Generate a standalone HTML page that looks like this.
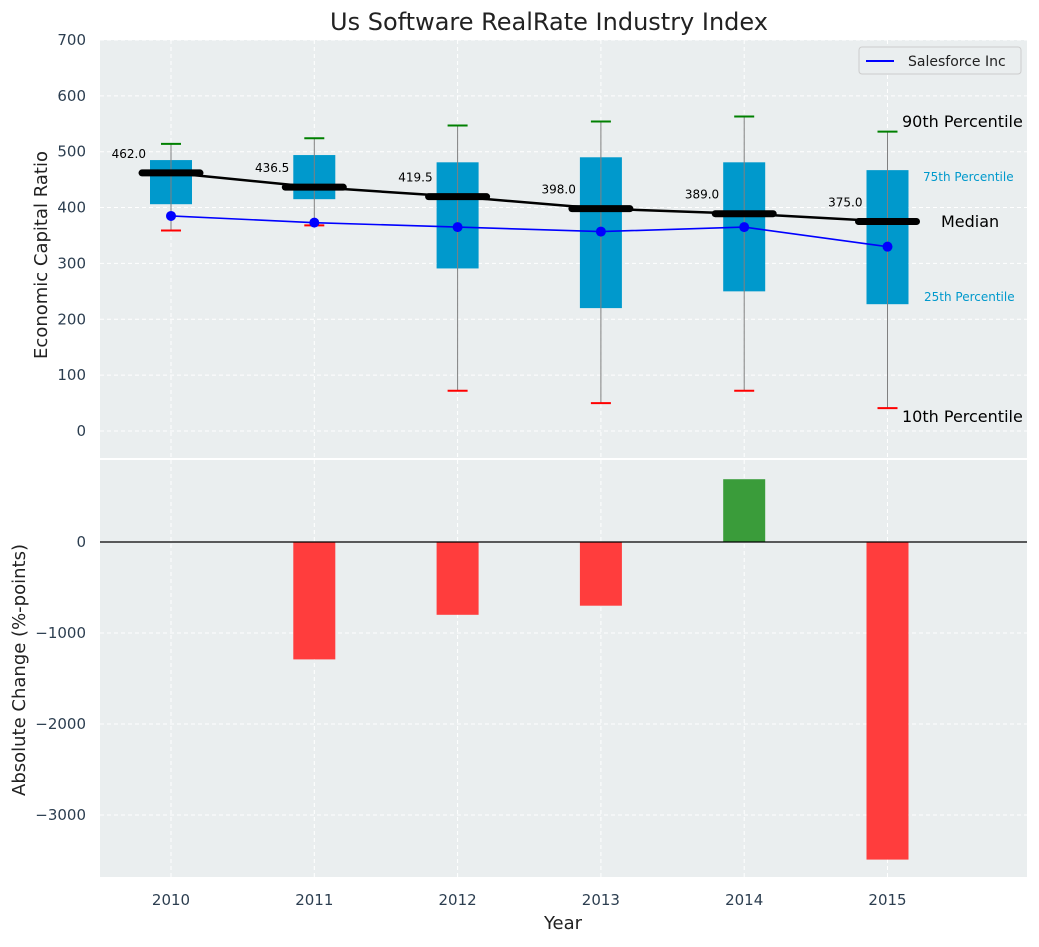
<!DOCTYPE html>
<html><head><meta charset="utf-8"><style>
body{margin:0;background:#fff;font-family:"Liberation Sans","DejaVu Sans",sans-serif;}
svg text{font-family:"DejaVu Sans","Liberation Sans",sans-serif;}
</style></head><body>
<svg id="c" width="1039" height="942" xmlns="http://www.w3.org/2000/svg"></svg>
<script>
const years=[2010,2011,2012,2013,2014,2015];
const p90=[514,524,547,554,563,536];
const p75=[485,494,481,490,481,467];
const medians=[462.0,436.5,419.5,398.0,389.0,375.0];
const p25=[406,415,291,220,250,227];
const p10=[359,368,72,50,72,41];
const salesforce=[385,373,365,357,365,330];
const changes=[0,-1290,-800,-700,690,-3490];
const topTicks=[0,100,200,300,400,500,600,700];
const botTicks=[0,-1000,-2000,-3000];

const svg=document.getElementById('c');
const NS='http://www.w3.org/2000/svg';
function el(tag,attrs,parent){const e=document.createElementNS(NS,tag);for(const k in attrs)e.setAttribute(k,attrs[k]);(parent||svg).appendChild(e);return e;}
const L=100,R=1027;
const x=i=>171+(i)*143.3;
const yT=v=>431-v*0.5586;
const yB=v=>542-v*0.091;

let bg=el('rect',{x:L,y:40,width:R-L,height:418,fill:'#eaeeef'});

let bg2=el('rect',{x:L,y:460,width:R-L,height:417,fill:'#eaeeef'});


years.forEach((y,i)=>{
 el('line',{x1:x(i),x2:x(i),y1:40,y2:458,stroke:'#fff','stroke-dasharray':'4,3','stroke-width':1});
 el('line',{x1:x(i),x2:x(i),y1:460,y2:877,stroke:'#fff','stroke-dasharray':'4,3','stroke-width':1});
 let t=el('text',{x:x(i),y:905,'font-size':15,fill:'#2c3e50','text-anchor':'middle'});t.textContent=y;
 
});
topTicks.forEach(v=>{
 el('line',{x1:L,x2:R,y1:yT(v),y2:yT(v),stroke:'#fff','stroke-dasharray':'4,3'});
 let t=el('text',{x:86,y:yT(v)+5,'font-size':15,fill:'#2c3e50','text-anchor':'end'});t.textContent=v;
 
});
botTicks.forEach(v=>{
 el('line',{x1:L,x2:R,y1:yB(v),y2:yB(v),stroke:'#fff','stroke-dasharray':'4,3'});
 let t=el('text',{x:86,y:yB(v)+5,'font-size':15,fill:'#2c3e50','text-anchor':'end'});t.textContent=(v<0?'\u2212'+(-v):v);
 
});

years.forEach((y,i)=>{
 let b=el('rect',{x:x(i)-21,y:yT(p75[i]),width:42,height:yT(p25[i])-yT(p75[i]),fill:'#0099cc'});
 
 el('line',{x1:x(i),x2:x(i),y1:yT(p90[i]),y2:yT(p10[i]),stroke:'#808080','stroke-width':1});
 el('line',{x1:x(i)-10,x2:x(i)+10,y1:yT(p90[i]),y2:yT(p90[i]),stroke:'green','stroke-width':2});
 el('line',{x1:x(i)-10,x2:x(i)+10,y1:yT(p10[i]),y2:yT(p10[i]),stroke:'red','stroke-width':2});
});
el('polyline',{points:medians.map((m,i)=>x(i)+','+yT(m)).join(' '),fill:'none',stroke:'#000','stroke-width':2.5});
years.forEach((y,i)=>{
 let m=el('line',{x1:x(i)-29,x2:x(i)+29,y1:yT(medians[i]),y2:yT(medians[i]),stroke:'#000','stroke-width':7,'stroke-linecap':'round'});
 
 let t=el('text',{x:x(i)-25,y:yT(medians[i])-15,'font-size':12,fill:'#000','text-anchor':'end'});t.textContent=medians[i].toFixed(1);
 
});
el('polyline',{points:salesforce.map((v,i)=>x(i)+','+yT(v)).join(' '),fill:'none',stroke:'blue','stroke-width':1.6});
salesforce.forEach((v,i)=>{let c=el('circle',{cx:x(i),cy:yT(v),r:5,fill:'blue'});
 });

const ann=[['90th Percentile',902,127,16,'#000'],['75th Percentile',923,181,12,'#0099cc'],['Median',941,227,16,'#000'],['25th Percentile',924,301,12,'#0099cc'],['10th Percentile',902,422,16,'#000']];
ann.forEach(a=>{let t=el('text',{x:a[1],y:a[2],'font-size':a[3],fill:a[4]});t.textContent=a[0];
 });

let lg=el('rect',{x:859,y:47,width:162,height:27,fill:'#eaeeef',stroke:'#ccc',rx:3});

el('line',{x1:866,x2:894,y1:61,y2:61,stroke:'blue','stroke-width':2});
let lt=el('text',{x:908,y:66,'font-size':14,fill:'#222'});lt.textContent='Salesforce Inc';


changes.forEach((v,i)=>{
 if(v===0)return;
 const y0=yB(Math.max(v,0)),h=Math.abs(yB(v)-yB(0));
 let b=el('rect',{x:x(i)-21,y:y0,width:42,height:h,fill:v>0?'#3a9c3a':'#ff3d3d'});
 
});
el('line',{x1:L,x2:R,y1:yB(0),y2:yB(0),stroke:'#000','stroke-width':1.2});

let tt=el('text',{x:549,y:30,'font-size':24,fill:'#222','text-anchor':'middle'});tt.textContent='Us Software RealRate Industry Index';

let yt=el('text',{x:0,y:0,'font-size':18,fill:'#222','text-anchor':'middle',transform:'translate(47,255) rotate(-90)'});yt.textContent='Economic Capital Ratio';

let yt2=el('text',{x:0,y:0,'font-size':18,fill:'#222','text-anchor':'middle',transform:'translate(25,670) rotate(-90)'});yt2.textContent='Absolute Change (%-points)';

let xt=el('text',{x:563,y:929,'font-size':18,fill:'#222','text-anchor':'middle'});xt.textContent='Year';

</script>
</body></html>
